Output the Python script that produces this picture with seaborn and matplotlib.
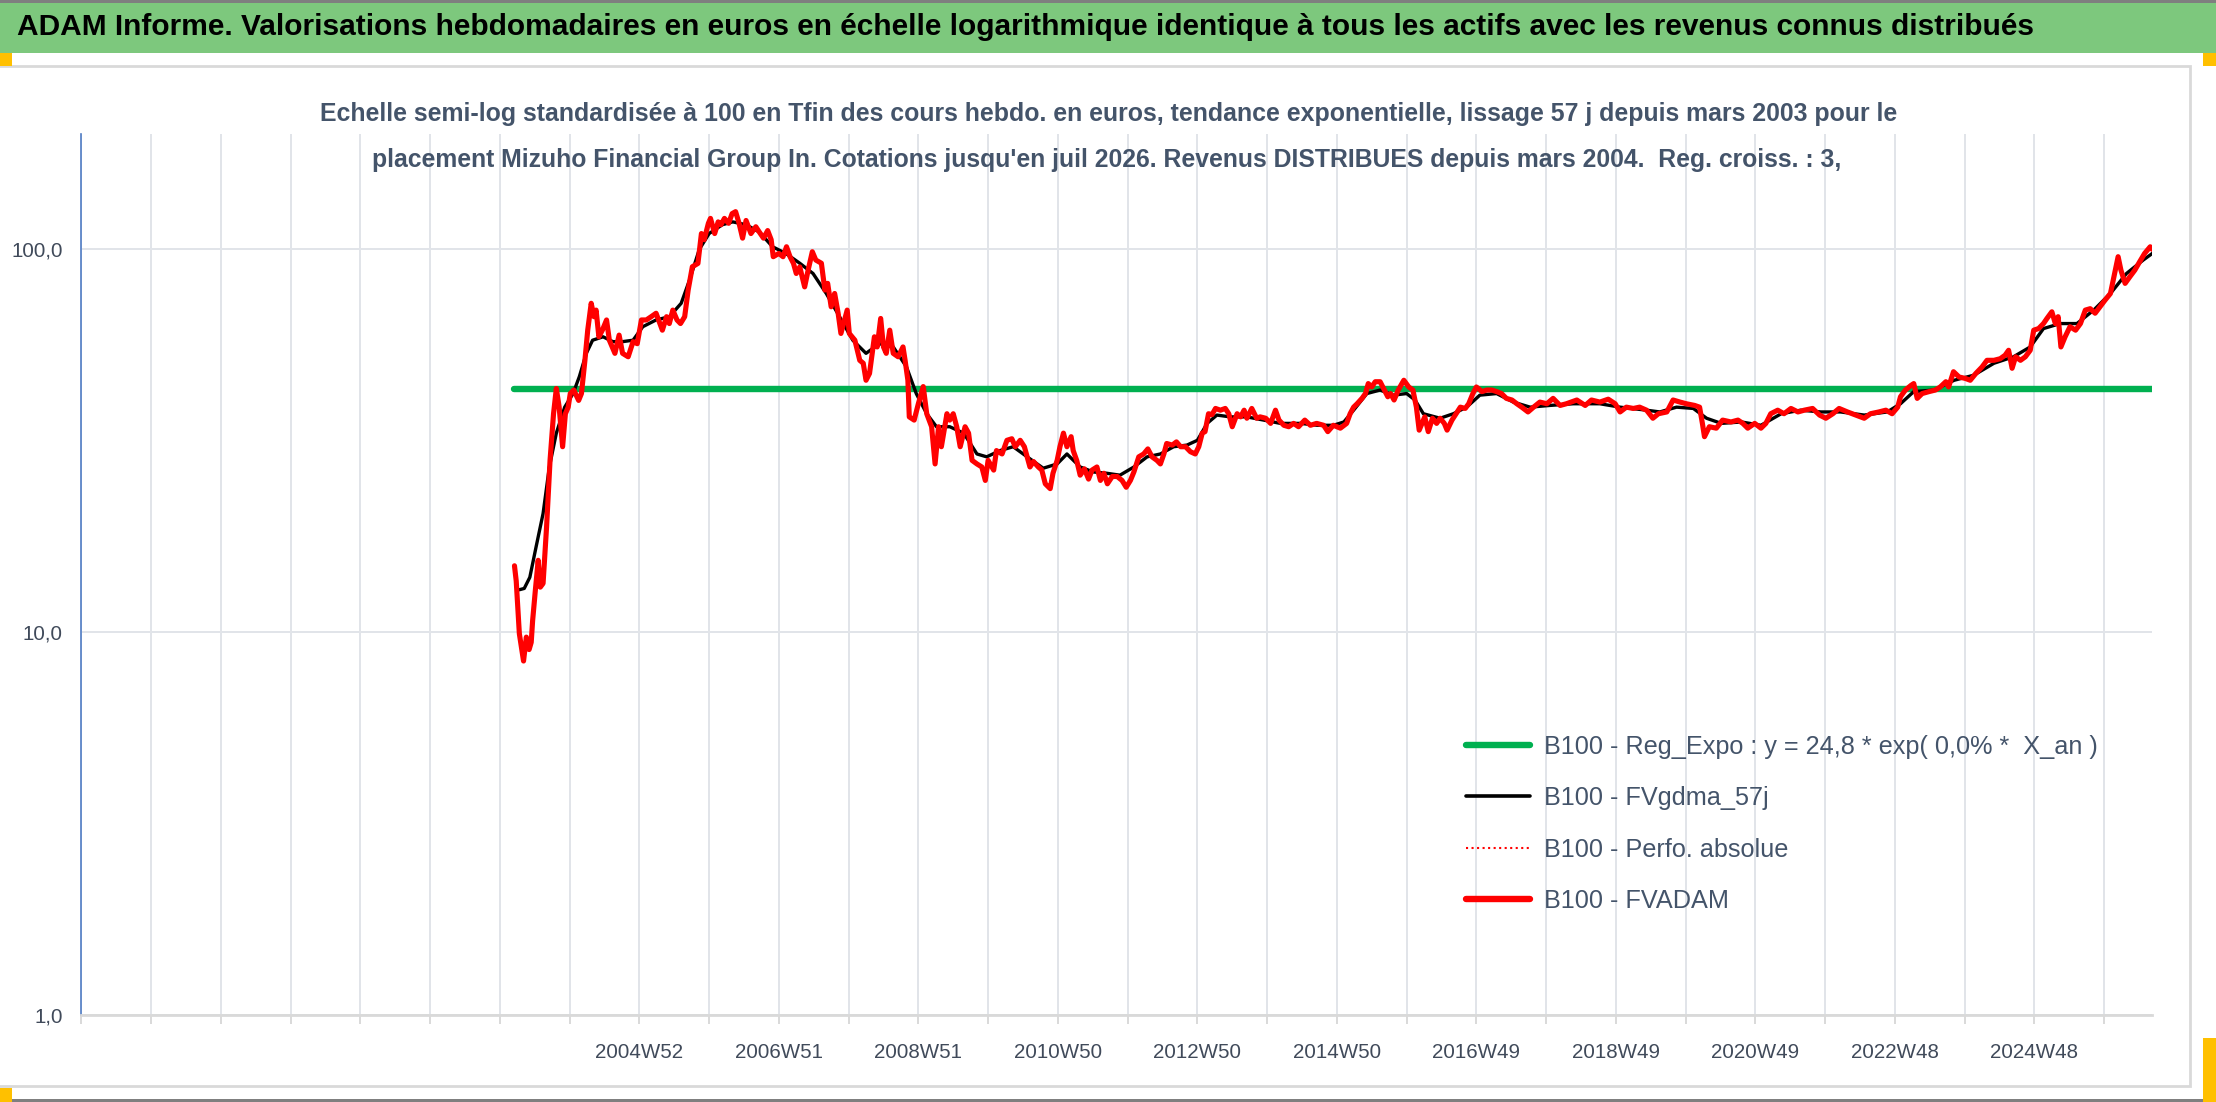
import numpy as np
import pandas as pd
import matplotlib
matplotlib.use("Agg")
import matplotlib.pyplot as plt
import seaborn as sns
from matplotlib import font_manager as fm
from matplotlib.lines import Line2D
from matplotlib.patches import Rectangle
from matplotlib.ticker import FixedLocator, FixedFormatter, NullLocator

# ---------------- data ----------------
adam_t = [2003.21, 2003.235, 2003.28, 2003.34, 2003.38, 2003.42, 2003.45, 2003.47, 2003.51, 2003.55,
          2003.58, 2003.62, 2003.67, 2003.72, 2003.77, 2003.81, 2003.85, 2003.90, 2003.94, 2003.98,
          2004.01, 2004.06, 2004.13, 2004.17, 2004.22, 2004.26, 2004.31, 2004.35, 2004.38, 2004.42,
          2004.47, 2004.53, 2004.57, 2004.65, 2004.71, 2004.76, 2004.84, 2004.91, 2004.97, 2005.03,
          2005.10, 2005.17, 2005.24, 2005.33, 2005.39, 2005.43, 2005.48, 2005.54, 2005.59, 2005.65,
          2005.70, 2005.76, 2005.84, 2005.89, 2005.93, 2005.99, 2006.02, 2006.08, 2006.13, 2006.17,
          2006.22, 2006.28, 2006.33, 2006.38, 2006.43, 2006.48, 2006.53, 2006.60, 2006.67, 2006.72,
          2006.78, 2006.84, 2006.89, 2006.92, 2007.00, 2007.06, 2007.11, 2007.16, 2007.21, 2007.25,
          2007.30, 2007.37, 2007.42, 2007.48, 2007.53, 2007.61, 2007.66, 2007.70, 2007.75, 2007.80,
          2007.85, 2007.89, 2007.98, 2008.01, 2008.09, 2008.16, 2008.21, 2008.25, 2008.30, 2008.37,
          2008.41, 2008.46, 2008.50, 2008.54, 2008.59, 2008.64, 2008.71, 2008.78, 2008.81, 2008.85,
          2008.87, 2008.94, 2009.00, 2009.07, 2009.12, 2009.19, 2009.24, 2009.29, 2009.33, 2009.41,
          2009.45, 2009.50, 2009.55, 2009.60, 2009.67, 2009.72, 2009.77, 2009.84, 2009.91, 2009.96,
          2010.00, 2010.08, 2010.12, 2010.20, 2010.27, 2010.34, 2010.39, 2010.46, 2010.52, 2010.56,
          2010.60, 2010.65, 2010.72, 2010.77, 2010.82, 2010.89, 2010.93, 2010.99, 2011.03, 2011.08,
          2011.13, 2011.19, 2011.22, 2011.27, 2011.32, 2011.38, 2011.44, 2011.49, 2011.56, 2011.61,
          2011.66, 2011.71, 2011.78, 2011.85, 2011.92, 2011.98, 2012.04, 2012.09, 2012.16, 2012.23,
          2012.29, 2012.35, 2012.42, 2012.47, 2012.52, 2012.56, 2012.64, 2012.70, 2012.76, 2012.83,
          2012.90, 2012.97, 2013.02, 2013.07, 2013.11, 2013.16, 2013.21, 2013.26, 2013.33, 2013.40,
          2013.45, 2013.50, 2013.57, 2013.62, 2013.67, 2013.71, 2013.78, 2013.85, 2013.90, 2013.98,
          2014.05, 2014.12, 2014.17, 2014.24, 2014.31, 2014.38, 2014.45, 2014.54, 2014.62, 2014.71,
          2014.81, 2014.87, 2014.95, 2015.05, 2015.14, 2015.19, 2015.24, 2015.29, 2015.36, 2015.41,
          2015.45, 2015.50, 2015.55, 2015.62, 2015.67, 2015.73, 2015.77, 2015.82, 2015.88, 2015.96,
          2016.03, 2016.09, 2016.14, 2016.18, 2016.22, 2016.26, 2016.31, 2016.37, 2016.43, 2016.48,
          2016.54, 2016.58, 2016.65, 2016.71, 2016.77, 2016.84, 2016.89, 2016.95, 2017.00, 2017.08,
          2017.15, 2017.22, 2017.29, 2017.36, 2017.43, 2017.51, 2017.58, 2017.65, 2017.74, 2017.82,
          2017.91, 2018.01, 2018.10, 2018.20, 2018.29, 2018.44, 2018.56, 2018.65, 2018.77, 2018.89,
          2018.99, 2019.06, 2019.15, 2019.25, 2019.34, 2019.44, 2019.53, 2019.61, 2019.73, 2019.82,
          2019.92, 2020.01, 2020.13, 2020.20, 2020.24, 2020.27, 2020.34, 2020.44, 2020.53, 2020.65,
          2020.75, 2020.82, 2020.89, 2020.99, 2021.08, 2021.15, 2021.22, 2021.32, 2021.41, 2021.51,
          2021.61, 2021.70, 2021.82, 2021.92, 2022.01, 2022.11, 2022.20, 2022.32, 2022.44, 2022.56,
          2022.65, 2022.77, 2022.87, 2022.96, 2023.04, 2023.08, 2023.15, 2023.23, 2023.27, 2023.32,
          2023.39, 2023.49, 2023.58, 2023.65, 2023.73, 2023.77, 2023.84, 2023.92, 2024.01, 2024.08,
          2024.16, 2024.25, 2024.32, 2024.42, 2024.51, 2024.58, 2024.63, 2024.68, 2024.73, 2024.80,
          2024.87, 2024.94, 2024.99, 2025.06, 2025.13, 2025.18, 2025.25, 2025.30, 2025.34, 2025.38,
          2025.44, 2025.51, 2025.59, 2025.66, 2025.73, 2025.80, 2025.87, 2025.94, 2026.01, 2026.09,
          2026.13, 2026.20, 2026.24, 2026.30, 2026.37, 2026.44, 2026.51, 2026.58, 2026.66, 2026.69]
adam_v = [14.9, 13.6, 9.9, 8.4, 9.7, 9.0, 9.4, 10.7, 12.9, 15.4,
          13.1, 13.4, 18.8, 28.1, 37.2, 43.3, 38.8, 30.5, 37.2, 38.7,
          42.0, 42.9, 40.3, 42.0, 51.3, 61.5, 72.3, 66.7, 69.4, 59.1,
          61.5, 65.4, 57.9, 53.5, 59.7, 53.5, 52.4, 57.4, 56.7, 65.4,
          65.4, 66.7, 68.1, 61.5, 66.7, 64.0, 69.4, 65.4, 64.0, 66.7,
          78.3, 90.1, 91.9, 110.0, 106.0, 117.0, 120.5, 110.0, 118.0, 116.0,
          120.5, 117.0, 124.0, 125.5, 117.0, 107.0, 119.0, 110.0, 114.6, 111.0,
          107.0, 112.0, 106.0, 95.7, 97.6, 95.7, 101.6, 95.7, 91.9, 86.5,
          90.0, 79.8, 88.3, 98.6, 93.8, 92.0, 78.3, 81.5, 70.8, 76.7,
          68.1, 60.3, 69.4, 60.3, 57.9, 51.3, 50.4, 45.5, 47.4, 59.1,
          55.6, 66.0, 55.6, 53.5, 61.5, 53.5, 52.4, 55.6, 51.3, 45.5,
          36.5, 35.8, 39.5, 43.8, 37.2, 34.4, 27.5, 34.4, 30.5, 37.2,
          35.8, 37.2, 34.4, 30.5, 34.4, 33.1, 28.1, 27.5, 27.0, 24.9,
          28.1, 26.5, 29.8, 29.2, 31.7, 32.0, 30.5, 31.7, 30.5, 28.7,
          27.0, 27.9, 27.0, 26.5, 24.4, 23.7, 26.0, 28.1, 30.5, 33.1,
          30.5, 32.4, 29.8, 28.1, 25.7, 26.7, 25.1, 26.5, 27.0, 24.9,
          26.0, 24.4, 25.5, 25.5, 24.9, 23.9, 24.9, 26.2, 28.7, 29.2,
          30.1, 28.7, 28.1, 27.5, 29.2, 31.1, 30.8, 31.4, 30.5, 30.5,
          29.6, 29.2, 30.5, 33.1, 33.4, 37.2, 37.0, 38.4, 38.0, 38.4,
          37.2, 34.4, 37.2, 36.5, 38.0, 36.2, 38.4, 36.2, 36.5, 36.2,
          35.1, 38.0, 35.8, 34.7, 34.4, 35.1, 34.4, 35.8, 34.7, 35.1,
          34.7, 33.4, 34.7, 34.1, 35.1, 37.2, 38.7, 39.5, 40.8, 42.0,
          44.6, 43.7, 45.1, 45.1, 43.3, 41.2, 42.0, 40.4, 42.9, 45.5,
          43.7, 42.9, 38.7, 33.7, 35.1, 36.5, 33.4, 36.2, 35.1, 36.2,
          35.1, 33.7, 35.8, 37.2, 38.7, 38.4, 39.5, 42.0, 43.7, 42.5,
          42.9, 42.9, 42.5, 42.0, 40.8, 40.4, 39.5, 38.7, 37.6, 38.7,
          39.9, 39.5, 40.8, 39.1, 39.5, 40.4, 39.1, 40.4, 39.9, 40.6,
          39.5, 37.6, 38.7, 38.4, 38.7, 38.0, 36.2, 37.2, 37.6, 40.4,
          39.9, 39.5, 39.1, 38.7, 35.1, 32.4, 34.4, 34.1, 35.8, 35.4,
          35.8, 35.1, 34.1, 35.1, 34.1, 35.1, 37.2, 38.0, 37.2, 38.4,
          37.6, 38.0, 38.4, 36.9, 36.2, 37.2, 38.4, 37.6, 36.9, 36.2,
          37.2, 37.6, 38.0, 37.2, 38.7, 41.2, 42.9, 44.1, 44.6, 40.8,
          42.0, 42.5, 42.9, 43.7, 45.1, 43.7, 47.9, 46.4, 46.0, 45.5,
          47.4, 49.3, 51.3, 51.3, 51.8, 52.9, 54.5, 48.9, 52.4, 51.3,
          52.4, 54.5, 61.5, 62.1, 64.0, 66.0, 68.7, 64.0, 66.7, 55.6,
          59.1, 62.8, 61.5, 64.0, 69.4, 70.0, 68.1, 70.8, 73.6, 76.7,
          83.2, 95.7, 88.3, 81.5, 84.9, 88.3, 92.9, 97.6, 101.6, 100.0]

gdma_t = [2003.28, 2003.35, 2003.43, 2003.52, 2003.62, 2003.71, 2003.81, 2003.93, 2004.05, 2004.14,
          2004.24, 2004.33, 2004.48, 2004.62, 2004.76, 2004.91, 2005.05, 2005.24, 2005.43, 2005.60,
          2005.72, 2005.86, 2006.00, 2006.19, 2006.34, 2006.53, 2006.72, 2006.91, 2007.10, 2007.30,
          2007.49, 2007.68, 2007.87, 2008.06, 2008.25, 2008.44, 2008.64, 2008.83, 2008.97, 2009.12,
          2009.26, 2009.45, 2009.65, 2009.84, 2009.98, 2010.17, 2010.36, 2010.56, 2010.79, 2010.99,
          2011.13, 2011.32, 2011.51, 2011.70, 2011.89, 2012.09, 2012.28, 2012.47, 2012.66, 2012.85,
          2013.00, 2013.14, 2013.28, 2013.47, 2013.71, 2013.95, 2014.19, 2014.48, 2014.72, 2014.95,
          2015.10, 2015.24, 2015.43, 2015.62, 2015.81, 2016.00, 2016.12, 2016.24, 2016.48, 2016.67,
          2016.86, 2017.05, 2017.29, 2017.53, 2017.77, 2018.05, 2018.39, 2018.77, 2019.06, 2019.44,
          2019.63, 2019.87, 2020.11, 2020.30, 2020.51, 2020.80, 2021.08, 2021.37, 2021.65, 2021.94,
          2022.22, 2022.56, 2022.89, 2023.08, 2023.27, 2023.56, 2023.85, 2024.13, 2024.42, 2024.70,
          2024.94, 2025.13, 2025.37, 2025.61, 2025.85, 2026.09, 2026.32, 2026.56, 2026.69]
gdma_v = [12.9, 13.0, 13.9, 16.7, 20.4, 27.0, 33.1, 38.7, 42.0, 46.5,
          53.5, 57.9, 59.1, 57.4, 57.4, 57.9, 62.8, 65.4, 66.7, 72.3,
          83.2, 100.0, 110.0, 116.0, 118.0, 116.0, 111.0, 101.6, 97.6, 92.0,
          86.5, 76.7, 66.7, 57.9, 53.5, 56.7, 55.6, 49.3, 42.0, 37.2,
          34.4, 34.4, 33.1, 29.2, 28.7, 29.8, 30.5, 28.7, 26.8, 27.5,
          29.2, 27.0, 26.2, 26.0, 25.7, 27.0, 28.7, 29.2, 30.5, 30.8,
          31.7, 35.1, 36.9, 36.5, 36.5, 35.8, 35.1, 35.1, 34.7, 34.7,
          35.4, 38.0, 42.0, 42.9, 41.6, 42.0, 40.4, 37.2, 36.2, 37.2,
          38.7, 41.6, 42.0, 39.9, 38.7, 39.1, 39.5, 39.5, 38.7, 38.0,
          37.6, 38.7, 38.4, 36.2, 35.1, 35.4, 34.7, 37.2, 38.0, 37.6,
          37.6, 36.9, 37.6, 39.5, 42.5, 42.9, 45.5, 46.9, 50.4, 52.4,
          55.6, 62.1, 64.0, 64.0, 69.4, 76.7, 86.5, 93.8, 97.6]

reg_t = [2003.21, 2026.69]
reg_v = [43.2, 43.2]

grid_years = list(range(1997, 2027))
label_years = [2005, 2007, 2009, 2011, 2013, 2015, 2017, 2019, 2021, 2023, 2025]
label_text = ["2004W52", "2006W51", "2008W51", "2010W50", "2012W50", "2014W50",
              "2016W49", "2018W49", "2020W49", "2022W48", "2024W48"]
y_ticks = [1, 10, 100]
y_labels = ["1,0", "10,0", "100,0"]

series_names = ["B100 - Reg_Expo : y = 24,8 * exp( 0,0% *  X_an )",
                "B100 - FVgdma_57j",
                "B100 - Perfo. absolue",
                "B100 - FVADAM"]

title_text = ("ADAM Informe. Valorisations hebdomadaires en euros en échelle logarithmique "
              "identique à tous les actifs avec les revenus connus distribués")
subtitle_1 = ("Echelle semi-log standardisée à 100 en Tfin des cours hebdo. en euros, tendance "
              "exponentielle, lissage 57 j depuis mars 2003 pour le")
subtitle_2 = ("placement Mizuho Financial Group In. Cotations jusqu'en juil 2026. Revenus "
              "DISTRIBUES depuis mars 2004.  Reg. croiss. : 3,")

# ---------------- style ----------------
sns.set_theme(style="white")
names = {f.name for f in fm.fontManager.ttflist}
fam = [n for n in ["Liberation Sans Narrow", "Liberation Sans", "DejaVu Sans"] if n in names]
plt.rcParams["font.family"] = fam + ["DejaVu Sans"]

W, H = 2216, 1102
fig = plt.figure(figsize=(W / 100, H / 100), dpi=100)
fig.patch.set_facecolor("white")

def fx(px):
    return px / W

def fy(py):
    return 1 - py / H

# header band and frame decorations
fig.patches.append(Rectangle((0, fy(53)), 1, fy(3) - fy(53), transform=fig.transFigure,
                             facecolor="#7DC87D", edgecolor="none", zorder=0))
fig.patches.append(Rectangle((0, fy(3)), 1, fy(0) - fy(3), transform=fig.transFigure,
                             facecolor="#7F7F7F", edgecolor="none", zorder=0))
fig.patches.append(Rectangle((0, fy(H)), 1, fy(H - 3) - fy(H), transform=fig.transFigure,
                             facecolor="#7F7F7F", edgecolor="none", zorder=0))
fig.patches.append(Rectangle((fx(-5), fy(1086)), fx(2190 + 5), fy(66) - fy(1086),
                             transform=fig.transFigure, facecolor="none",
                             edgecolor="#D9D9D9", lw=2, zorder=0))
for (x0, y0, x1, y1) in [(0, 53, 12, 66), (2203, 53, 2216, 66), (0, 1088, 12, 1102),
                         (2203, 1038, 2216, 1102)]:
    fig.patches.append(Rectangle((fx(x0), fy(y1)), fx(x1 - x0), fy(y0) - fy(y1),
                                 transform=fig.transFigure, facecolor="#FFC000",
                                 edgecolor="none", zorder=1))

fig.text(fx(17), fy(27), title_text, ha="left", va="center", fontsize=21.5,
         fontweight="bold", color="black")
fig.text(fx(1109), fy(114), subtitle_1, ha="center", va="center", fontsize=17.9,
         fontweight="bold", color="#44546A", zorder=5)
fig.text(fx(1107), fy(160), subtitle_2, ha="center", va="center", fontsize=17.8,
         fontweight="bold", color="#44546A", zorder=5)

# ---------------- axes ----------------
ax_left, ax_right = 81.3, 2152.3
ax_top, ax_bottom = 134.2, 1014.7
ax = fig.add_axes([fx(ax_left), fy(ax_bottom), fx(ax_right - ax_left), fy(ax_top) - fy(ax_bottom)])
ax.set_facecolor("none")

df_adam = pd.DataFrame({"t": adam_t, "v": adam_v})
df_gdma = pd.DataFrame({"t": gdma_t, "v": gdma_v})
df_reg = pd.DataFrame({"t": reg_t, "v": reg_v})

sns.lineplot(data=df_reg, x="t", y="v", ax=ax, color="#00B050", lw=4.6,
             estimator=None, sort=False, solid_capstyle="round", zorder=3)
sns.lineplot(data=df_gdma, x="t", y="v", ax=ax, color="black", lw=2.4,
             estimator=None, sort=False, zorder=4)
sns.lineplot(data=df_adam, x="t", y="v", ax=ax, color="red", lw=1.5, linestyle=":",
             estimator=None, sort=False, zorder=4.5)
sns.lineplot(data=df_adam, x="t", y="v", ax=ax, color="red", lw=3.7,
             estimator=None, sort=False, zorder=5)

ax.set_yscale("log")
ax.set_ylim(1, 200)
ax.set_xlim(1997, 2026.69)
ax.set_xlabel("")
ax.set_ylabel("")

ax.xaxis.set_major_locator(FixedLocator(grid_years))
lab_map = dict(zip(label_years, label_text))
ax.xaxis.set_major_formatter(FixedFormatter([lab_map.get(y, "") for y in grid_years]))
ax.yaxis.set_major_locator(FixedLocator(y_ticks))
ax.yaxis.set_major_formatter(FixedFormatter(y_labels))
ax.yaxis.set_minor_locator(NullLocator())
ax.xaxis.set_minor_locator(NullLocator())

grid_col = "#E1E4E9"
ax.grid(True, axis="both", color=grid_col, lw=1.4, zorder=0)
ax.set_axisbelow(True)
ax.tick_params(axis="x", which="major", length=6.5, width=1.4, color="#D9D9D9",
               direction="out", pad=14, labelsize=14.8, labelcolor="#404A5A", bottom=True)
ax.tick_params(axis="y", which="major", length=0, pad=13.5, labelsize=14.8,
               labelcolor="#404A5A", left=True)

for s in ["top", "right"]:
    ax.spines[s].set_visible(False)
ax.spines["bottom"].set_color("#D9D9D9")
ax.spines["bottom"].set_linewidth(2)
ax.spines["left"].set_color("#4F7CC4")
ax.spines["left"].set_linewidth(1.2)

handles = [Line2D([], [], color="#00B050", lw=4.6, solid_capstyle="round"),
           Line2D([], [], color="black", lw=2.6),
           Line2D([], [], color="red", lw=1.5, linestyle=":"),
           Line2D([], [], color="red", lw=4.6, solid_capstyle="round")]
leg = fig.legend(handles, series_names, loc="upper left",
                 bbox_to_anchor=(fx(1466), fy(735)), bbox_transform=fig.transFigure,
                 frameon=False, fontsize=18.2, handlelength=2.55, handletextpad=0.55,
                 labelspacing=1.08, borderpad=0, borderaxespad=0)
for t in leg.get_texts():
    t.set_color("#44546A")

fig.savefig("out.png", dpi=100, facecolor="white")
